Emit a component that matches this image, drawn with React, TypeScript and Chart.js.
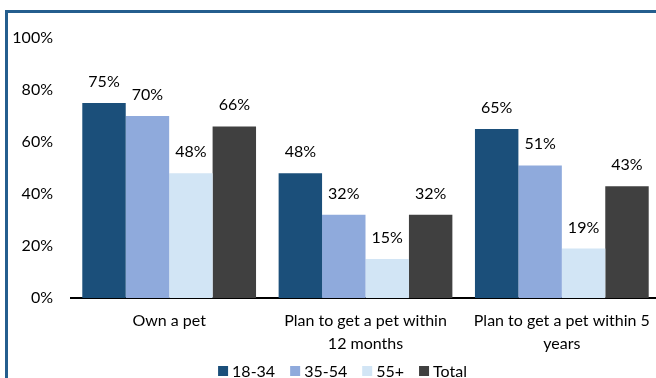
import React, { useEffect, useRef } from "react";
import { Chart, registerables } from "chart.js";

Chart.register(...registerables);

const categories: string[][] = [
  ["Own a pet"],
  ["Plan to get a pet within", "12 months"],
  ["Plan to get a pet within 5", "years"],
];
const seriesNames = ["18-34", "35-54", "55+", "Total"];
const age18to34 = [75, 48, 65];
const age35to54 = [70, 32, 51];
const age55plus = [48, 15, 19];
const total = [66, 32, 43];
const yTicks = [0, 20, 40, 60, 80, 100];

const colors = ["#1B4F7A", "#8FAADC", "#D2E5F5", "#404040"];
const FONT = "Lato";
const FS = 16;

const dataLabels = {
  id: "dataLabels",
  afterDatasetsDraw(chart: any) {
    const ctx = chart.ctx;
    ctx.save();
    ctx.font = `${FS}px ${FONT}`;
    ctx.fillStyle = "#000";
    ctx.textAlign = "center";
    ctx.textBaseline = "alphabetic";
    chart.data.datasets.forEach((ds: any, i: number) => {
      const meta = chart.getDatasetMeta(i);
      meta.data.forEach((el: any, j: number) => {
        ctx.fillText(`${ds.data[j]}%`, el.x, el.y - 16);
      });
    });
    ctx.restore();
  },
};

const customLegend = {
  id: "customLegend",
  afterDraw(chart: any) {
    const ctx = chart.ctx;
    ctx.save();
    ctx.font = `${FS}px ${FONT}`;
    const box = 10;
    const gapText = 4;
    const gapItem = 15;
    const widths = chart.data.datasets.map(
      (ds: any) => box + gapText + ctx.measureText(ds.label).width
    );
    const totalW =
      widths.reduce((a: number, b: number) => a + b, 0) + gapItem * (widths.length - 1);
    let x = 342.5 - totalW / 2;
    const cy = 371;
    chart.data.datasets.forEach((ds: any, i: number) => {
      ctx.fillStyle = ds.backgroundColor;
      ctx.fillRect(x, cy - box / 2, box, box);
      ctx.fillStyle = "#000";
      ctx.textAlign = "left";
      ctx.textBaseline = "middle";
      ctx.fillText(ds.label, x + box + gapText, cy + 1);
      x += widths[i] + gapItem;
    });
    ctx.restore();
  },
};

export default function App() {
  const ref = useRef<HTMLCanvasElement>(null);
  useEffect(() => {
    if (!ref.current) return;
    const values = [age18to34, age35to54, age55plus, total];
    const chart = new Chart(ref.current, {
      type: "bar",
      data: {
        labels: categories as any,
        datasets: seriesNames.map((name, i) => ({
          label: name,
          data: values[i],
          backgroundColor: colors[i],
          borderWidth: 0,
          barPercentage: 1,
          categoryPercentage: 0.885,
        })),
      },
      options: {
        responsive: false,
        animation: false,
        layout: { padding: { top: 38, right: 20, bottom: 0, left: 0 } },
        plugins: { legend: { display: false }, tooltip: { enabled: false } },
        scales: {
          x: {
            grid: { display: false, drawTicks: false },
            border: { display: true, color: "#000", width: 2 },
            ticks: {
              font: { family: FONT, size: FS, lineHeight: 1.4 },
              color: "#000",
              padding: 12,
              maxRotation: 0,
              autoSkip: false,
            },
            afterFit(scale: any) {
              scale.height = 80;
            },
          },
          y: {
            min: 0,
            max: 100,
            grid: { display: false, drawTicks: false },
            border: { display: false },
            afterBuildTicks(scale: any) {
              scale.ticks = yTicks.map((v) => ({ value: v }));
            },
            ticks: {
              font: { family: FONT, size: FS },
              color: "#000",
              padding: 18,
              callback: (v: any) => `${v}%`,
            },
            afterFit(scale: any) {
              scale.width = 71;
            },
          },
        },
      },
      plugins: [dataLabels, customLegend],
    });
    return () => chart.destroy();
  }, []);

  return (
    <div
      style={{
        position: "fixed",
        left: 0,
        top: 0,
        width: 656,
        height: 378,
        overflow: "hidden",
        background: "#fff",
      }}
    >
      <canvas
        ref={ref}
        width={680}
        height={378}
        style={{ position: "absolute", left: 0, top: 0, width: 680, height: 378 }}
      />
      <div
        style={{
          position: "absolute",
          left: 5,
          top: 10,
          width: 700,
          height: 400,
          borderTop: "3px solid #245E8E",
          borderLeft: "3px solid #245E8E",
          pointerEvents: "none",
        }}
      />
    </div>
  );
}
